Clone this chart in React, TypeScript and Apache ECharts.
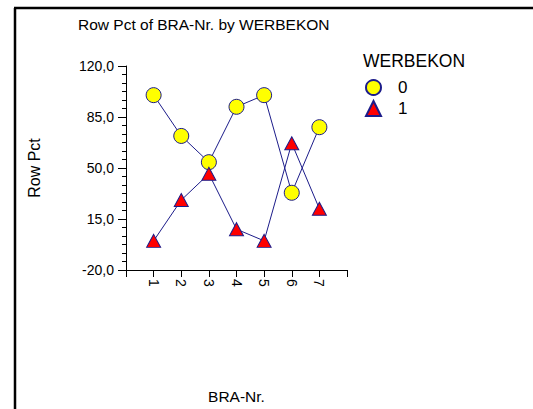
import React, { useEffect, useRef } from "react";
import * as echarts from "echarts";

const categories = [1, 2, 3, 4, 5, 6, 7];
const series0 = [100, 72, 54, 92, 100, 33, 78];
const series1 = [0, 28, 46, 8, 0, 67, 22];
const seriesNames = ["0", "1"];
const yTicks = [-20, 15, 50, 85, 120];

const FONT = "'Liberation Sans', Arial, sans-serif";
const NAVY = "#1c1c8a";

export default function App() {
  const ref = useRef<HTMLDivElement>(null);
  useEffect(() => {
    document.body.style.margin = "0";
    document.body.style.overflow = "hidden";
    if (!ref.current) return;
    const chart = echarts.init(ref.current, null, { renderer: "svg" });
    chart.setOption({
      animation: false,
      backgroundColor: "#ffffff",
      textStyle: { fontFamily: FONT },
      title: [
        {
          text: "Row Pct of BRA-Nr. by WERBEKON",
          left: 78,
          top: 16,
          padding: 0,
          textStyle: { fontFamily: FONT, fontSize: 15.5, fontWeight: "normal", color: "#000" },
        },
        {
          text: "WERBEKON",
          left: 363,
          top: 52,
          padding: 0,
          textStyle: { fontFamily: FONT, fontSize: 17.5, fontWeight: "normal", color: "#000" },
        },
      ],
      legend: {
        orient: "vertical",
        left: 365,
        top: 79,
        padding: 0,
        itemWidth: 15,
        itemHeight: 15,
        itemGap: 4,
        data: [
          { name: seriesNames[0], icon: "circle" },
          { name: seriesNames[1], icon: "triangle" },
        ],
        textStyle: { fontFamily: FONT, fontSize: 17, lineHeight: 16, color: "#000", padding: [0, 0, 0, 12] },
      },
      graphic: [
        {
          type: "line",
          shape: { x1: 15, y1: 8, x2: 15, y2: 409 },
          style: { stroke: "#000", lineWidth: 2.5 },
          silent: true,
        },
        {
          type: "line",
          shape: { x1: 14, y1: 8, x2: 533, y2: 8 },
          style: { stroke: "#000", lineWidth: 2.5 },
          silent: true,
        },
      ],
      grid: { left: 126, right: 186, top: 66, bottom: 138 },
      xAxis: {
        type: "value",
        min: 0,
        max: 8,
        interval: 1,
        name: "BRA-Nr.",
        nameLocation: "middle",
        nameGap: 118,
        nameTextStyle: { fontFamily: FONT, fontSize: 15.5, color: "#000" },
        axisLine: { onZero: false, lineStyle: { color: "#000", width: 1 } },
        axisTick: { show: true, length: 7, lineStyle: { color: "#000" } },
        splitLine: { show: false },
        axisLabel: {
          rotate: -90,
          margin: 9,
          fontFamily: FONT,
          fontSize: 14,
          color: "#000",
          formatter: (v: number) => (categories.includes(v) ? String(v) : ""),
        },
      },
      yAxis: {
        type: "value",
        min: yTicks[0],
        max: yTicks[yTicks.length - 1],
        interval: yTicks[1] - yTicks[0],
        name: "Row Pct",
        nameLocation: "middle",
        nameGap: 84,
        nameRotate: 90,
        nameTextStyle: { fontFamily: FONT, fontSize: 16, color: "#000" },
        axisLine: { show: true, lineStyle: { color: "#000", width: 1 } },
        axisTick: { show: true, length: 8, lineStyle: { color: "#000" } },
        minorTick: { show: true, splitNumber: 6, length: 4, lineStyle: { color: "#000" } },
        splitLine: { show: false },
        axisLabel: {
          margin: 12,
          fontFamily: FONT,
          fontSize: 14,
          color: "#000",
          formatter: (v: number) => v.toFixed(1).replace(".", ","),
        },
      },
      series: [
        {
          name: seriesNames[0],
          type: "line",
          data: categories.map((c, i) => [c, series0[i]]),
          symbol: "circle",
          symbolSize: 15,
          lineStyle: { color: NAVY, width: 1 },
          itemStyle: { color: "#ffff00", borderColor: NAVY, borderWidth: 1 },
          z: 3,
        },
        {
          name: seriesNames[1],
          type: "line",
          data: categories.map((c, i) => [c, series1[i]]),
          symbol: "triangle",
          symbolSize: [14, 13],
          lineStyle: { color: NAVY, width: 1 },
          itemStyle: { color: "#ff0000", borderColor: NAVY, borderWidth: 1 },
          z: 3,
        },
      ],
    });
    return () => chart.dispose();
  }, []);
  return (
    <div
      ref={ref}
      style={{ position: "fixed", left: 0, top: 0, width: 533, height: 409 }}
    />
  );
}
